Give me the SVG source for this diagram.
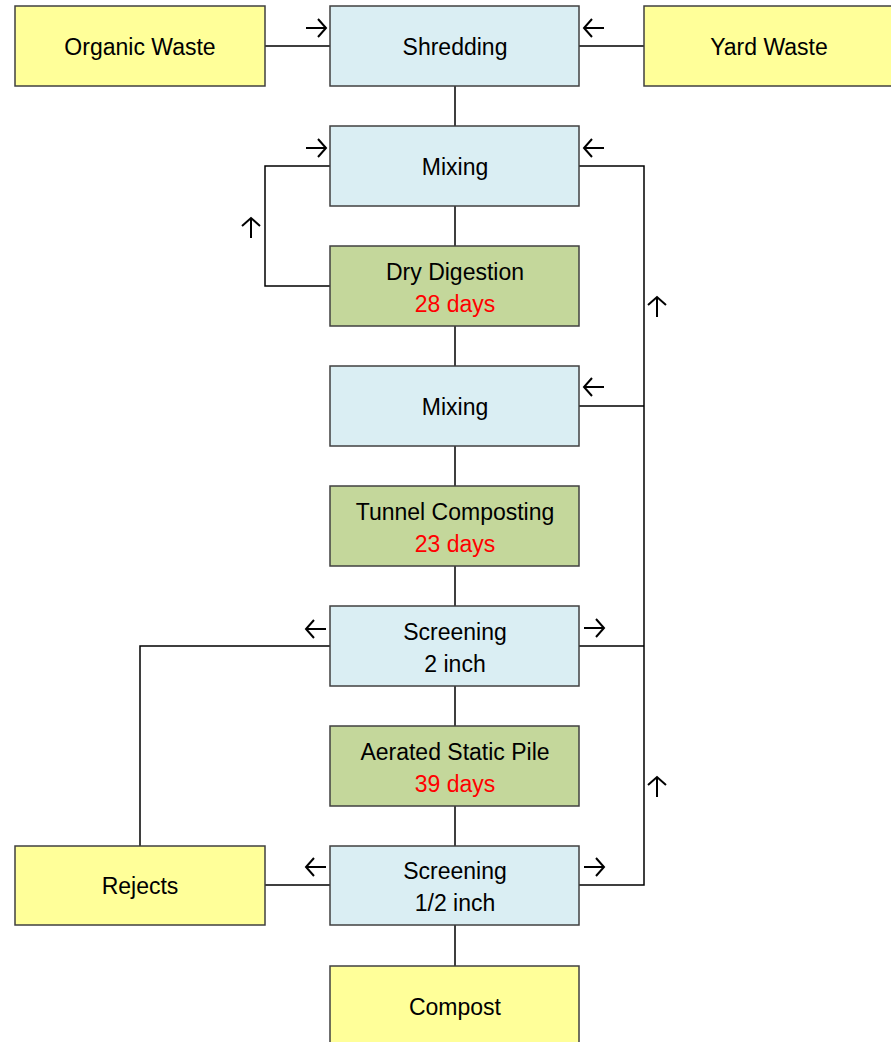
<svg xmlns="http://www.w3.org/2000/svg" xmlns:xlink="http://www.w3.org/1999/xlink" width="891" height="1042" viewBox="0 0 891 1042">
<style>
.box{stroke:#404040;stroke-width:1.5}
.y{fill:#FFFF99}
.b{fill:#DAEEF3}
.g{fill:#C4D79B}
text{font-family:"Liberation Sans",Arial,sans-serif;font-size:23px;fill:#000;text-anchor:middle}
.red{fill:#FF0000}
.ln{fill:none;stroke:#000;stroke-width:1.5}
.ar{fill:none;stroke:#000;stroke-width:2}
</style>
<defs>
<path id="arr" class="ar" d="M-10,0 H10 M2,-9 L10,0 L2,9"/>
</defs>
<g id="connectors">
<path class="ln" d="M265,46 H330 M579,46 H644"/>
<path class="ln" d="M455,86 V126 M455,206 V246 M455,326 V366 M455,446 V486 M455,566 V606 M455,686 V726 M455,806 V846 M455,925 V966"/>
<path class="ln" d="M330,286 H265 V166 H330"/>
<path class="ln" d="M579,166 H644 V885 H579 M579,406 H644 M579,646 H644"/>
<path class="ln" d="M330,646 H140 V846 M265,885 H330"/>
<use xlink:href="#arr" transform="translate(316,28)"/>
<use xlink:href="#arr" transform="translate(594,28) rotate(180)"/>
<use xlink:href="#arr" transform="translate(316,148)"/>
<use xlink:href="#arr" transform="translate(594,148) rotate(180)"/>
<use xlink:href="#arr" transform="translate(251,228) rotate(-90)"/>
<use xlink:href="#arr" transform="translate(657,307) rotate(-90)"/>
<use xlink:href="#arr" transform="translate(594,387) rotate(180)"/>
<use xlink:href="#arr" transform="translate(316,629) rotate(180)"/>
<use xlink:href="#arr" transform="translate(594,628)"/>
<use xlink:href="#arr" transform="translate(657,787) rotate(-90)"/>
<use xlink:href="#arr" transform="translate(316,867) rotate(180)"/>
<use xlink:href="#arr" transform="translate(594,867)"/>
</g>
<g id="organic"><rect class="box y" x="15" y="6" width="250" height="80"/><text x="140" y="55">Organic Waste</text></g>
<g id="shredding"><rect class="box b" x="330" y="6" width="249" height="80"/><text x="455" y="55">Shredding</text></g>
<g id="yard"><rect class="box y" x="644" y="6" width="250" height="80"/><text x="769" y="55">Yard Waste</text></g>
<g id="mixing1"><rect class="box b" x="330" y="126" width="249" height="80"/><text x="455" y="175">Mixing</text></g>
<g id="dry"><rect class="box g" x="330" y="246" width="249" height="80"/><text x="455" y="280">Dry Digestion</text><text class="red" x="455" y="312">28 days</text></g>
<g id="mixing2"><rect class="box b" x="330" y="366" width="249" height="80"/><text x="455" y="415">Mixing</text></g>
<g id="tunnel"><rect class="box g" x="330" y="486" width="249" height="80"/><text x="455" y="520">Tunnel Composting</text><text class="red" x="455" y="552">23 days</text></g>
<g id="screen2"><rect class="box b" x="330" y="606" width="249" height="80"/><text x="455" y="640">Screening</text><text x="455" y="672">2 inch</text></g>
<g id="asp"><rect class="box g" x="330" y="726" width="249" height="80"/><text x="455" y="760">Aerated Static Pile</text><text class="red" x="455" y="792">39 days</text></g>
<g id="rejects"><rect class="box y" x="15" y="846" width="250" height="79"/><text x="140" y="894">Rejects</text></g>
<g id="screen05"><rect class="box b" x="330" y="846" width="249" height="79"/><text x="455" y="879">Screening</text><text x="455" y="911">1/2 inch</text></g>
<g id="compost"><rect class="box y" x="330" y="966" width="249" height="80"/><text x="455" y="1015">Compost</text></g>
</svg>
